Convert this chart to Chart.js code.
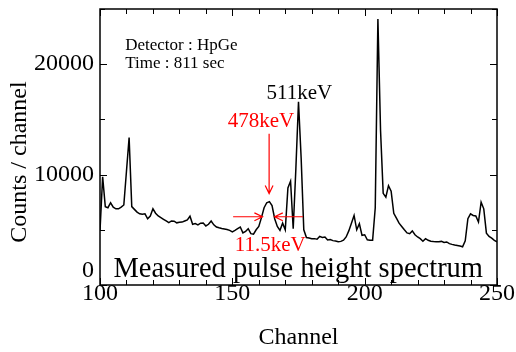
<!DOCTYPE html>
<html><head><meta charset="utf-8">
<script src="https://cdn.jsdelivr.net/npm/chart.js@4.4.0/dist/chart.umd.min.js"></script>
<style>html,body{margin:0;padding:0;background:#fff;}</style>
</head><body>
<canvas id="c" width="516" height="352"></canvas>
<script>
const channels = [100,101,102,103,104,105,106,107,108,109,110,111,112,113,114,115,116,117,118,119,
120,121,122,123,124,125,126,127,128,129,130,131,132,133,134,135,136,137,138,139,
140,141,142,143,144,145,146,147,148,149,150,151,152,153,154,155,156,157,158,159,
160,161,162,163,164,165,166,167,168,169,170,171,172,173,174,175,176,177,178,179,
180,181,182,183,184,185,186,187,188,189,190,191,192,193,194,195,196,197,198,199,
200,201,202,203,204,205,206,207,208,209,210,211,212,213,214,215,216,217,218,219,
220,221,222,223,224,225,226,227,228,229,230,231,232,233,234,235,236,237,238,239,
240,241,242,243,244,245,246,247,248,249,250];
const counts = [4900,9800,7100,7000,7450,7050,6900,6900,7050,7250,10300,13350,7100,6850,6600,6450,6400,6450,6000,6250,
6900,6500,6250,6100,5950,5800,5650,5800,5780,5630,5680,5700,5800,5900,6230,5500,5560,5450,5600,5620,
5350,5500,5800,5450,5250,5180,5120,5080,5030,4950,4820,4950,5100,5250,4720,4850,5100,4650,4600,5000,
5300,6100,7000,7450,7550,7200,6000,5300,4950,5600,5000,8800,9400,5100,10500,16600,11500,5000,4300,4250,
4200,4200,4150,4400,4300,4350,4080,4120,4020,3980,3910,3950,4060,4350,4900,5600,6300,5000,5550,4500,
4550,4100,4050,4050,7000,24100,14000,8300,7950,9000,8500,6500,6050,5600,5300,5000,4720,4650,4900,4550,
4350,4200,3970,4200,4050,3970,3930,3910,3910,3950,3850,3900,3750,3680,3620,3580,3530,3460,4000,6000,
6450,6300,6250,5700,7500,6900,4700,4400,4250,4050,3900];
const xTickValues = [100,150,200,250];
const yTickValues = [0,10000,20000];
const xMinorStep = 10;
const yMinorStep = 5000;
const xRange = [100,250];
const yRange = [0,25000];

const SERIF = '"Liberation Serif","Times New Roman",serif';

const infoLines = [
  {text:'Detector : HpGe', ch:109.5, v:21650},
  {text:'Time : 811 sec',  ch:109.5, v:20050}
];
const peakLabel = {text:'511keV', ch:175.3, v:17350};
const peakLabel2 = {text:'478keV', ch:160.8, v:14850};
const fwhmLabel = {text:'11.5keV', ch:164.3, v:3550};
const spectrumLabel = {text:'Measured pulse height spectrum', ch:174.9, v:700};
const vArrow = {ch:163.9, from:13700, to:8280};
const hArrowL = {from:150.3, to:161.4, v:6180};
const hArrowR = {from:176.7, to:166.0, v:6180};

const decor = {
  id:'decor',
  afterDraw(chart){
    const {ctx, chartArea:a, scales:{x, y}} = chart;
    ctx.save();
    ctx.strokeStyle = '#000';
    ctx.lineWidth = 1.5;
    ctx.strokeRect(a.left, a.top, a.right - a.left, a.bottom - a.top);
    ctx.lineWidth = 1;
    ctx.beginPath();
    for (let v = xRange[0]; v <= xRange[1]; v += xMinorStep) {
      const px = Math.round(x.getPixelForValue(v)) + 0.5;
      const len = xTickValues.includes(v) ? 7 : 5;
      ctx.moveTo(px, a.bottom); ctx.lineTo(px, a.bottom - len);
      ctx.moveTo(px, a.top); ctx.lineTo(px, a.top + len);
    }
    for (let v = yRange[0]; v <= yRange[1]; v += yMinorStep) {
      const py = Math.round(y.getPixelForValue(v)) + 0.5;
      const len = yTickValues.includes(v) ? 7 : 5;
      ctx.moveTo(a.left, py); ctx.lineTo(a.left + len, py);
      ctx.moveTo(a.right, py); ctx.lineTo(a.right - len, py);
    }
    ctx.stroke();

    ctx.fillStyle = '#000';
    ctx.font = '24px ' + SERIF;
    ctx.textAlign = 'right';
    ctx.textBaseline = 'middle';
    ctx.fillText(String(yTickValues[0]), a.left - 6, y.getPixelForValue(0) - 14);

    ctx.save();
    ctx.translate(20, 162);
    ctx.rotate(-Math.PI/2);
    ctx.textAlign = 'center';
    ctx.textBaseline = 'middle';
    ctx.font = '24px ' + SERIF;
    ctx.fillText('Counts / channel', 0, 0);
    ctx.restore();

    ctx.font = '17px ' + SERIF;
    ctx.textAlign = 'left';
    ctx.textBaseline = 'middle';
    infoLines.forEach(l => ctx.fillText(l.text, x.getPixelForValue(l.ch), y.getPixelForValue(l.v)));

    ctx.textAlign = 'center';
    ctx.font = '21px ' + SERIF;
    ctx.fillText(peakLabel.text, x.getPixelForValue(peakLabel.ch), y.getPixelForValue(peakLabel.v));
    ctx.fillStyle = '#ff0000';
    ctx.fillText(peakLabel2.text, x.getPixelForValue(peakLabel2.ch), y.getPixelForValue(peakLabel2.v));
    ctx.fillText(fwhmLabel.text, x.getPixelForValue(fwhmLabel.ch), y.getPixelForValue(fwhmLabel.v));

    ctx.strokeStyle = '#ff0000';
    ctx.lineWidth = 1.2;
    const arrow = (x1,y1,x2,y2) => {
      const ang = Math.atan2(y2-y1, x2-x1), hl = 9, hw = 0.45;
      ctx.beginPath();
      ctx.moveTo(x1,y1); ctx.lineTo(x2,y2);
      ctx.moveTo(x2 - hl*Math.cos(ang-hw), y2 - hl*Math.sin(ang-hw));
      ctx.lineTo(x2,y2);
      ctx.lineTo(x2 - hl*Math.cos(ang+hw), y2 - hl*Math.sin(ang+hw));
      ctx.stroke();
    };
    arrow(x.getPixelForValue(vArrow.ch), y.getPixelForValue(vArrow.from), x.getPixelForValue(vArrow.ch), y.getPixelForValue(vArrow.to));
    arrow(x.getPixelForValue(hArrowL.from), y.getPixelForValue(hArrowL.v), x.getPixelForValue(hArrowL.to), y.getPixelForValue(hArrowL.v));
    arrow(x.getPixelForValue(hArrowR.from), y.getPixelForValue(hArrowR.v), x.getPixelForValue(hArrowR.to), y.getPixelForValue(hArrowR.v));

    ctx.fillStyle = '#000';
    ctx.font = '28.5px ' + SERIF;
    ctx.textBaseline = 'alphabetic';
    ctx.fillText(spectrumLabel.text, x.getPixelForValue(spectrumLabel.ch), y.getPixelForValue(spectrumLabel.v));
    ctx.restore();
  }
};

new Chart(document.getElementById('c'), {
  type: 'line',
  data: {
    datasets: [{
      data: channels.map((c,i) => ({x:c, y:counts[i]})),
      borderColor: '#000',
      borderWidth: 1.5,
      pointRadius: 0,
      tension: 0,
      fill: false
    }]
  },
  options: {
    responsive: false,
    devicePixelRatio: 1,
    animation: false,
    layout: {padding: {top: 9, right: 19, left: 0, bottom: 0}},
    plugins: {legend: {display: false}, tooltip: {enabled: false}},
    scales: {
      x: {
        type: 'linear', min: xRange[0], max: xRange[1],
        afterBuildTicks: s => { s.ticks = xTickValues.map(v => ({value: v})); },
        afterFit: s => { s.height = 67; s.paddingLeft = 0; s.paddingRight = 0; },
        grid: {display: false, drawTicks: false},
        border: {display: false},
        ticks: {color: '#000', font: {family: SERIF, size: 24}, padding: -6, maxRotation: 0, autoSkip: false},
        title: {display: true, text: 'Channel', color: '#000', font: {family: SERIF, size: 24}, padding: {top: 0, bottom: 0}}
      },
      y: {
        type: 'linear', min: yRange[0], max: yRange[1],
        afterBuildTicks: s => { s.ticks = yTickValues.map(v => ({value: v})); },
        afterFit: s => { s.width = 100; s.paddingTop = 0; s.paddingBottom = 0; },
        grid: {display: false, drawTicks: false},
        border: {display: false},
        ticks: {color: '#000', font: {family: SERIF, size: 24}, padding: 6,
          callback: v => (v === yTickValues[0] ? '' : String(v))}
      }
    }
  },
  plugins: [decor]
});
</script>
</body></html>
